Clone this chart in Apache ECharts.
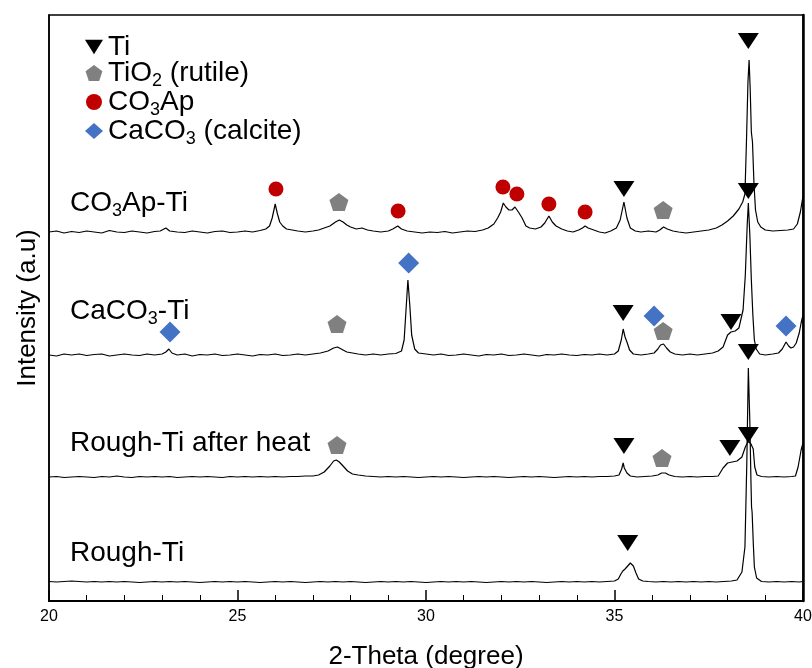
<!DOCTYPE html>
<html>
<head>
    <meta charset="utf-8">
    <script type="text/javascript" src="https://cdn.jsdelivr.net/npm/echarts@6/dist/echarts.min.js"></script>
</head>
<body style="margin:0; background-color:#fff">
<div id="main" style="width: 812px; height: 668px;"></div>
<script type="text/javascript">
    // [2-theta, intensity above the pattern's own baseline]
    var co3apTi = [
        [20.0,0],[20.2,1],[20.4,-1],[20.6,0.5],[20.8,-0.5],[21.0,1],[21.2,0],[21.4,-1],[21.6,1.5],[21.8,0],
        [22.0,-0.5],[22.2,1],[22.4,0],[22.6,-1],[22.8,0.5],[22.95,1],[23.1,4],[23.2,1],[23.4,0],[23.6,-0.5],
        [23.8,1],[24.0,0],[24.2,-1],[24.4,0.5],[24.6,1],[24.8,-0.5],[25.0,0],[25.2,1],[25.4,0],[25.6,1.5],
        [25.75,3],[25.85,6],[25.92,14],[26.0,28],[26.06,18],[26.12,10],[26.2,6],[26.3,3],[26.45,2],[26.6,1],
        [26.8,0],[27.0,1],[27.15,2],[27.3,4],[27.45,6],[27.6,10],[27.7,12],[27.8,10],[27.9,7],[28.0,5],
        [28.15,3],[28.3,4],[28.45,2],[28.6,1],[28.8,0],[29.0,1],[29.12,3],[29.25,6],[29.35,3],[29.5,1],
        [29.7,0],[29.9,-1],[30.1,0],[30.3,-0.5],[30.5,0.5],[30.7,-1],[30.9,0],[31.1,1],[31.3,0.5],[31.5,2],
        [31.65,4],[31.8,8],[31.9,14],[31.98,20],[32.05,29],[32.12,25],[32.2,22],[32.28,22],[32.36,25],[32.45,20],
        [32.55,14],[32.65,6],[32.75,4],[32.9,3],[33.05,5],[33.15,9],[33.26,16],[33.35,10],[33.45,6],[33.6,3],
        [33.75,1],[33.9,0],[34.05,2],[34.15,4],[34.22,6],[34.3,4],[34.45,2],[34.6,0],[34.75,-1],[34.9,1],
        [35.05,4],[35.15,12],[35.25,30],[35.33,14],[35.42,4],[35.55,1],[35.7,0],[35.9,1],[36.1,0],[36.2,2],
        [36.3,5],[36.4,3],[36.55,1],[36.7,0],[36.9,-1],[37.1,0],[37.3,1],[37.5,2],[37.7,4],[37.85,7],
        [38.0,11],[38.15,16],[38.3,23],[38.4,30],[38.46,38],[38.5,90],[38.54,150],[38.57,172],[38.6,142],[38.63,100],
        [38.66,90],[38.7,48],[38.74,22],[38.8,10],[38.88,5],[39.0,2],[39.2,1],[39.4,1.5],[39.6,2],[39.75,3],
        [39.85,8],[39.93,20],[40.0,36]
    ];
    var caco3Ti = [
        [20.0,0],[20.2,-1],[20.4,1],[20.6,0],[20.8,1],[21.0,-0.5],[21.2,0.5],[21.4,1],[21.6,-1],[21.8,0],
        [22.0,1],[22.2,0],[22.4,-0.5],[22.6,1],[22.8,0],[23.0,1],[23.1,3],[23.18,6],[23.26,2],[23.4,0],
        [23.6,1],[23.8,-1],[24.0,0.5],[24.2,0],[24.4,1],[24.6,-0.5],[24.8,0],[25.0,1],[25.2,0],[25.4,-1],
        [25.6,0.5],[25.8,0],[26.0,1],[26.2,-0.5],[26.4,0],[26.6,1],[26.8,0],[27.0,1],[27.2,2],[27.4,4],
        [27.55,7],[27.65,8],[27.75,6],[27.9,3],[28.05,2],[28.2,1],[28.4,0],[28.6,1],[28.8,0],[29.0,1],
        [29.2,1.5],[29.35,4],[29.42,15],[29.47,45],[29.52,75],[29.57,50],[29.62,20],[29.7,6],[29.8,2],[30.0,1],
        [30.2,0],[30.4,1],[30.6,-0.5],[30.8,0],[31.0,1],[31.2,0],[31.4,-1],[31.6,0.5],[31.8,0],[32.0,1],
        [32.2,-0.5],[32.4,0],[32.6,1],[32.8,0],[33.0,-1],[33.2,0.5],[33.4,0],[33.6,1],[33.8,0],[34.0,-0.5],
        [34.2,0.5],[34.4,0],[34.6,1],[34.8,0],[35.0,1],[35.1,4],[35.18,15],[35.23,26],[35.28,18],[35.33,13],
        [35.4,5],[35.5,1],[35.7,0],[35.9,1],[36.05,2],[36.15,6],[36.22,10],[36.3,11],[36.38,7],[36.48,3],
        [36.6,1],[36.8,0],[37.0,1],[37.2,0],[37.4,1],[37.6,2],[37.75,4],[37.88,8],[38.0,20],[38.09,23],
        [38.2,24],[38.3,27],[38.41,45],[38.47,80],[38.52,130],[38.55,152],[38.59,120],[38.63,75],[38.67,40],[38.71,15],
        [38.76,6],[38.85,1],[39.0,0],[39.2,1],[39.35,2],[39.45,6],[39.55,13],[39.62,9],[39.68,7],[39.75,8],
        [39.82,12],[39.9,22],[39.95,32],[40.0,40]
    ];
    var roughTiHeat = [
        [20.0,0],[20.2,0.5],[20.4,-0.5],[20.6,0],[20.8,0.5],[21.0,0],[21.2,-0.5],[21.4,0.5],[21.6,0],[21.8,1],
        [22.0,0],[22.2,-0.5],[22.4,0.5],[22.6,0],[22.8,0.5],[23.0,0],[23.2,0.5],[23.4,-0.5],[23.6,0],[23.8,0.5],
        [24.0,0],[24.2,0.5],[24.4,0],[24.6,-0.5],[24.8,0.5],[25.0,0],[25.2,0.5],[25.4,0],[25.6,0.5],[25.8,0],
        [26.0,0.5],[26.2,0],[26.4,0.5],[26.6,0.5],[26.8,1],[27.0,1],[27.15,2],[27.3,5],[27.45,11],[27.55,16],
        [27.62,17],[27.7,15],[27.8,11],[27.92,6],[28.05,3],[28.2,2],[28.4,1],[28.6,0.5],[28.8,0],[29.0,0.5],
        [29.2,0],[29.4,0.5],[29.6,0],[29.8,-0.5],[30.0,0],[30.2,0.5],[30.4,0],[30.6,0.5],[30.8,0],[31.0,-0.5],
        [31.2,0],[31.4,0.5],[31.6,0],[31.8,0.5],[32.0,0],[32.2,-0.5],[32.4,0],[32.6,0.5],[32.8,0],[33.0,0.5],
        [33.2,0],[33.4,-0.5],[33.6,0],[33.8,0.5],[34.0,0],[34.2,0.5],[34.4,0],[34.6,0.5],[34.8,0.5],[35.0,1],
        [35.12,2],[35.19,8],[35.23,14],[35.26,9],[35.29,10],[35.33,4],[35.42,1],[35.6,0],[35.8,0.5],[36.0,1],
        [36.15,2],[36.25,4],[36.35,4],[36.45,2],[36.6,0.5],[36.8,0],[37.0,0.5],[37.2,0],[37.4,0.5],[37.6,0.5],
        [37.75,1],[37.88,9],[38.0,14],[38.12,15],[38.25,16],[38.38,20],[38.47,30],[38.55,36],[38.62,33],[38.68,28],
        [38.72,10],[38.78,2],[38.9,0.5],[39.1,0],[39.3,0.5],[39.5,0],[39.7,0.5],[39.8,1],[39.87,10],[39.95,27],
        [40.0,34]
    ];
    var roughTi = [
        [20.0,0.5],[20.2,0],[20.4,0.5],[20.6,1],[20.8,0.5],[21.0,0],[21.2,0.5],[21.4,0],[21.6,0.5],[21.8,0],
        [22.0,0.5],[22.2,0],[22.4,-0.5],[22.6,0],[22.8,0.5],[23.0,0],[23.2,0.5],[23.4,0],[23.6,0.5],[23.8,0],
        [24.0,-0.5],[24.2,0],[24.4,0.5],[24.6,0],[24.8,0.5],[25.0,0],[25.2,0.5],[25.4,0],[25.6,-0.5],[25.8,0],
        [26.0,0.5],[26.2,0],[26.4,0.5],[26.6,0],[26.8,-0.5],[27.0,0],[27.2,0.5],[27.4,0],[27.6,0.5],[27.8,0],
        [28.0,0.5],[28.2,0],[28.4,-0.5],[28.6,0],[28.8,0.5],[29.0,0],[29.2,0.5],[29.4,0],[29.6,0.5],[29.8,0],
        [30.0,-0.5],[30.2,0],[30.4,0.5],[30.6,0],[30.8,0.5],[31.0,0],[31.2,0.5],[31.4,0],[31.6,-0.5],[31.8,0],
        [32.0,0.5],[32.2,0],[32.4,0.5],[32.6,0],[32.8,0.5],[33.0,0],[33.2,-0.5],[33.4,0],[33.6,0.5],[33.8,0],
        [34.0,0.5],[34.2,0],[34.4,0.5],[34.6,0],[34.8,0.5],[35.0,1],[35.1,3],[35.17,8],[35.22,11],[35.28,13],
        [35.35,16],[35.42,19],[35.5,16],[35.57,9],[35.64,3],[35.75,1],[35.9,0.5],[36.1,0],[36.3,0.5],[36.5,0],
        [36.7,0.5],[36.9,0],[37.1,0.5],[37.3,0],[37.5,0.5],[37.7,0],[37.9,0.5],[38.1,1],[38.25,2],[38.38,10],
        [38.46,35],[38.51,120],[38.55,214],[38.59,160],[38.62,100],[38.635,75],[38.65,70],[38.68,40],[38.71,15],[38.77,4],
        [38.9,0.5],[39.1,0],[39.3,0.5],[39.5,0],[39.7,0.5],[39.9,0],[40.0,0.5]
    ];
    var patterns = [co3apTi, caco3Ti, roughTiHeat, roughTi];
    var offsets  = [369, 246, 124, 19];
    var patternLabels = ['{t|CO}{s|3}{t|Ap-Ti}', '{t|CaCO}{s|3}{t|-Ti}', '{t|Rough-Ti after heat}', '{t|Rough-Ti}'];

    // phase markers, [2-theta, stacked intensity]
    var tiMarks       = [[38.55,560],[35.25,412],[38.55,410],[35.23,288],[38.09,279],[38.55,166],[35.25,155],[38.06,153],[38.55,249],[35.35,58]];
    var rutileMarks   = [[27.69,399],[36.29,391],[27.64,277],[36.29,270],[27.64,156],[36.26,143]];
    var apatiteMarks  = [[26.02,412],[29.26,390],[32.04,414],[32.41,407],[33.26,397],[34.22,389]];
    var calciteMarks  = [[23.21,269],[29.54,338],[36.05,285],[39.55,275]];

    var font = "'Liberation Sans', Arial, sans-serif";
    var triDown  = 'path://M0,0 L20,0 L10,16 Z';
    var pentagon = 'path://M10,0 L20,7.3 L16.2,19 L3.8,19 L0,7.3 Z';
    var legendText = {
        'Ti': '{t|Ti}',
        'TiO2 (rutile)': '{t|TiO}{s|2}{t| (rutile)}',
        'CO3Ap': '{t|CO}{s|3}{t|Ap}',
        'CaCO3 (calcite)': '{t|CaCO}{s|3}{t| (calcite)}'
    };
    var rich = {
        t: { fontSize: 28, fontFamily: font, color: '#000', lineHeight: 28 },
        s: { fontSize: 18, fontFamily: font, color: '#000', lineHeight: 28, padding: [16, 0, 0, 0] }
    };

    var series = patterns.map(function (p, i) {
        return {
            type: 'line',
            data: p.map(function (d) { return [d[0], d[1] + offsets[i]]; }),
            showSymbol: false,
            lineStyle: { color: '#000', width: 1.2 },
            silent: true,
            z: 2
        };
    });
    series.push(
        { name: 'Ti', type: 'scatter', data: tiMarks, symbol: triDown, symbolSize: [21, 16], itemStyle: { color: '#000', opacity: 1 }, z: 5 },
        { name: 'TiO2 (rutile)', type: 'scatter', data: rutileMarks, symbol: pentagon, symbolSize: [19, 18], itemStyle: { color: '#808080', opacity: 1 }, z: 5 },
        { name: 'CO3Ap', type: 'scatter', data: apatiteMarks, symbol: 'circle', symbolSize: 15, itemStyle: { color: '#c00000', opacity: 1 }, z: 5 },
        { name: 'CaCO3 (calcite)', type: 'scatter', data: calciteMarks, symbol: 'diamond', symbolSize: [21, 21], itemStyle: { color: '#4472c4', opacity: 1 }, z: 5 }
    );

    var labelY = [200, 308, 443, 553];
    var graphics = patternLabels.map(function (txt, i) {
        return {
            type: 'text', left: 70, top: labelY[i] - 14, silent: true,
            style: { text: txt, rich: rich }
        };
    });

    var myChart = echarts.init(document.getElementById('main'), null, { renderer: 'canvas' });
    var option = {
        animation: false,
        backgroundColor: '#fff',
        grid: {
            left: 49, right: 9, top: 15, bottom: 67, containLabel: false, outerBoundsMode: 'none',
            show: true, borderColor: '#000', borderWidth: 1.5
        },
        legend: {
            orient: 'vertical', left: 80, top: 28, itemGap: -5,
            itemWidth: 18, itemHeight: 16, selectedMode: false,
            data: ['Ti', 'TiO2 (rutile)', 'CO3Ap', 'CaCO3 (calcite)'],
            formatter: function (name) { return legendText[name]; },
            textStyle: { rich: rich }
        },
        xAxis: {
            type: 'value', min: 20, max: 40, interval: 5,
            name: '2-Theta (degree)', nameLocation: 'middle', nameGap: 43,
            nameTextStyle: { fontSize: 26, fontFamily: font, color: '#000' },
            axisLine: { lineStyle: { color: '#000', width: 2 } },
            axisTick: { inside: true, length: 11, lineStyle: { color: '#000', width: 1.5 } },
            minorTick: { show: true, splitNumber: 5, length: 6, lineStyle: { color: '#000', width: 1 } },
            axisLabel: { color: '#000', fontSize: 16, fontFamily: font, margin: 8 },
            splitLine: { show: false }
        },
        yAxis: [{
            type: 'value', min: 0, max: 586,
            name: 'Intensity (a.u)', nameLocation: 'middle', nameGap: 8,
            nameTextStyle: { fontSize: 26, fontFamily: font, color: '#000' },
            axisLine: { show: true, lineStyle: { color: '#000', width: 1.5 } },
            axisTick: { show: false }, axisLabel: { show: false }, splitLine: { show: false }
        }, {
            type: 'value', min: 0, max: 586, position: 'right',
            axisLine: { show: true, lineStyle: { color: '#000', width: 2.5 } },
            axisTick: { show: false }, axisLabel: { show: false }, splitLine: { show: false }
        }],
        graphic: graphics,
        series: series
    };
    myChart.setOption(option);
</script>
</body>
</html>
